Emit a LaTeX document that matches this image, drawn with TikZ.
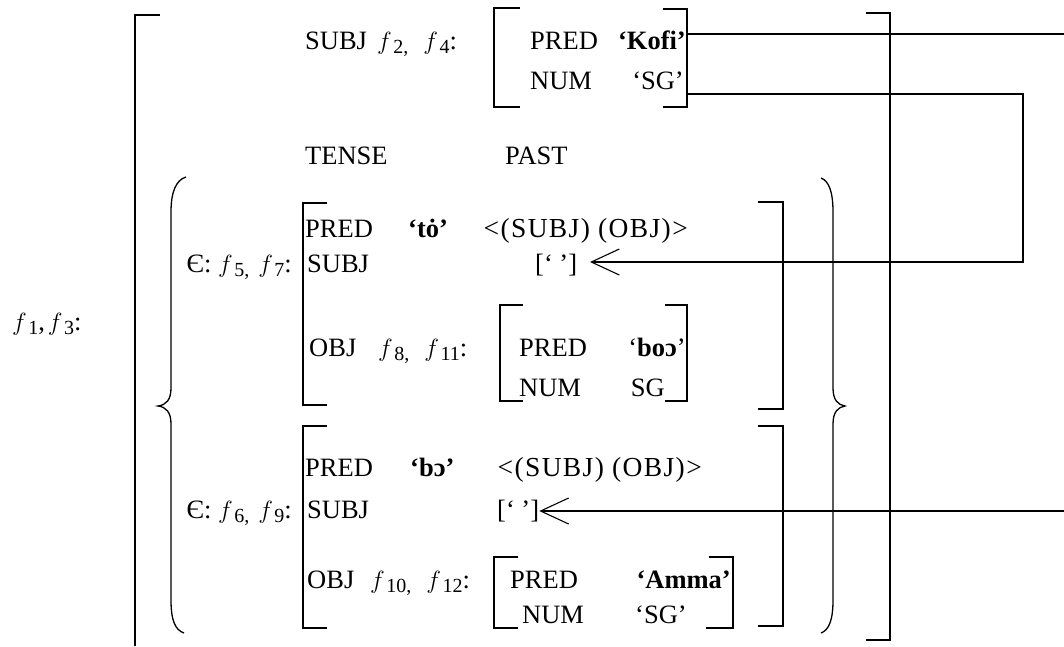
\documentclass[tikz,border=0pt]{standalone}
\usepackage{fontspec}
\setmainfont{Liberation Serif}
\usetikzlibrary{arrows.meta}
% italic f with a lowered index, as in f_2
\newcommand{\fsub}[1]{$f$\kern1.5pt\raisebox{-4.5pt}{\fontsize{20}{20}\selectfont #1}}
\newcommand{\fsp}{\hspace{9pt}}
\newcommand{\fwide}{\hspace{15pt}}
\begin{document}
\begin{tikzpicture}[x=1pt,y=-1pt,
  lbl/.style={inner sep=0pt, anchor=base west, font=\fontsize{26.5}{32}\selectfont},
  lblr/.style={lbl, anchor=base east},
  args/.style={lbl, anchor=base east, font=\fontsize{27.5}{32}\selectfont\addfontfeature{LetterSpace=5}},
  brk/.style={line width=1.8pt},
  brace/.style={line width=1.3pt},
  link/.style={line width=1.6pt},
  thinlink/.style={line width=1.1pt},
  barb/.style={-{Straight Barb[length=28pt,width=26pt,line width=1.1pt]}}
]
\useasboundingbox (0,0) rectangle (1064,646);

% outer structure f1, f3
\node[lbl] (f13) at (12,330) {\fsub{1},\kern3pt\fsub{3}:};
\draw[brk] (160,15) -- (135,15) -- (135,646);
\draw[brk] (866,13) -- (890,13) -- (890,640) -- (866,640);

% SUBJ f2, f4
\node[lbl] (subj) at (305,49) {SUBJ};
\node[lbl] (f24) at (377,49) {\fsub{2,}\fwide\fsub{4}:};
\draw[brk] (520,8) -- (494,8) -- (494,107) -- (520,107);
\draw[brk] (663,9) -- (687,9) -- (687,107) -- (663,107);
\node[lbl] (kpred) at (530,49) {PRED};
\node[lblr] (kofi) at (686,49) {\textbf{‘Kofi’}};
\node[lbl] (knum) at (530,89) {NUM};
\node[lblr] (ksg) at (684,89) {‘SG’};

% TENSE
\node[lbl] (tense) at (305,164) {TENSE};
\node[lbl] (past) at (505,164) {PAST};

% braces around the two alternatives
\draw[brace] (186,177) .. controls (176,180) and (171,192) .. (171,212) -- (171,388)
  .. controls (171,400) and (166,405) .. (158,406)
  .. controls (166,407) and (171,412) .. (171,424) -- (171,600)
  .. controls (171,620) and (175,630) .. (184,633);
\draw[brace] (821,178) .. controls (829,181) and (833,192) .. (833,212) -- (833,388)
  .. controls (833,400) and (838,405) .. (845,406)
  .. controls (838,407) and (833,412) .. (833,424) -- (833,600)
  .. controls (833,620) and (829,630) .. (821,633);

% first alternative f5, f7
\node[lblr] (e1) at (292,272) {Є: \fsub{5,}\fsp\fsub{7}:};
\draw[brk] (327,203) -- (303,203) -- (303,405) -- (327,405);
\draw[brk] (758,202) -- (783,202) -- (783,409) -- (758,409);
\node[lbl] (p1) at (305,237) {PRED};
\node[lbl] (to) at (408,237) {\textbf{‘tȯ’}};
\node[args] (args1) at (688,237) {<(SUBJ) (OBJ)>};
\node[lbl] (s1) at (307,272) {SUBJ};
\node[lbl] (gap1) at (535,272) {[‘ ’]};
\node[lbl] (o1) at (309,356) {OBJ};
\node[lbl] (f811) at (378,356) {\fsub{8,}\fwide\fsub{11}:};
\draw[brk] (523,305) -- (500,305) -- (500,401) -- (523,401);
\draw[brk] (665,305) -- (687,305) -- (687,401) -- (665,401);
\node[lbl] (ip1) at (519,356) {PRED};
\node[lblr] (bo1) at (686,356) {‘\textbf{boɔ}’};
\node[lbl] (in1) at (519,396) {NUM};
\node[lblr] (sg1) at (665,396) {SG};

% second alternative f6, f9
\node[lblr] (e2) at (292,518) {Є: \fsub{6,}\fsp\fsub{9}:};
\draw[brk] (327,426) -- (303,426) -- (303,628) -- (327,628);
\draw[brk] (758,426) -- (783,426) -- (783,626) -- (758,626);
\node[lbl] (p2) at (305,476) {PRED};
\node[lbl] (bo2) at (410,476) {\textbf{‘bɔ’}};
\node[args] (args2) at (702,476) {<(SUBJ) (OBJ)>};
\node[lbl] (s2) at (307,518) {SUBJ};
\node[lbl] (gap2) at (497,518) {[‘ ’]};
\node[lbl] (o2) at (307,588) {OBJ};
\node[lbl] (f1012) at (370,588) {\fsub{10,}\fwide\fsub{12}:};
\draw[brk] (518,557) -- (494,557) -- (494,628) -- (518,628);
\draw[brk] (709,557) -- (733,557) -- (733,628) -- (706,628);
\node[lbl] (ap) at (510,588) {PRED};
\node[lblr] (amma) at (731,588) {\textbf{‘Amma’}};
\node[lbl] (an) at (522,623) {NUM};
\node[lbl] (asg) at (635,623) {‘SG’};

% structure-sharing links
\coordinate (kEnd) at (1064,34);
\draw[link] (kofi.east |- kEnd) -- (kEnd);
\coordinate (c1) at (1023,94);
\coordinate (c2) at (1023,262);
\coordinate (tip1) at (590,262);
\draw[link,barb] (ksg.east |- c1) ++(3,0) -- (c1) -- (c2) -- (tip1);
\coordinate (a2) at (1064,511);
\draw[thinlink,barb] (a2) -- (gap2.east |- a2);
\end{tikzpicture}
\end{document}
